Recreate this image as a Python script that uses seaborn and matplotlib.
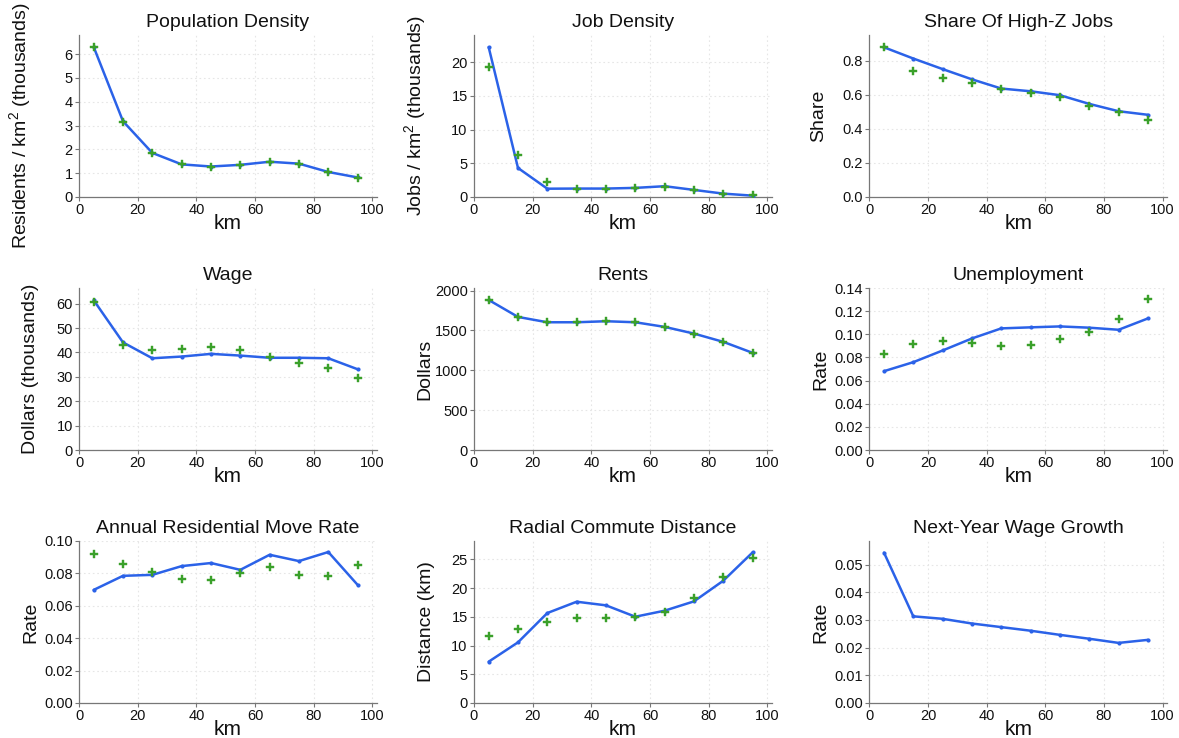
import numpy as np
import pandas as pd
import matplotlib
matplotlib.use("Agg")
import matplotlib.pyplot as plt
import seaborn as sns

km = [5, 15, 25, 35, 45, 55, 65, 75, 85, 95]

titles = ["Population Density", "Job Density", "Share Of High-Z Jobs",
          "Wage", "Rents", "Unemployment",
          "Annual Residential Move Rate", "Radial Commute Distance", "Next-Year Wage Growth"]
ylabels = ["Residents / km$^2$ (thousands)", "Jobs / km$^2$ (thousands)", "Share",
           "Dollars (thousands)", "Dollars", "Rate",
           "Rate", "Distance (km)", "Rate"]

# model (blue line)
pop_model = [6.30, 3.18, 1.85, 1.37, 1.28, 1.35, 1.48, 1.40, 1.05, 0.82]
job_model = [22.2, 4.3, 1.23, 1.25, 1.25, 1.35, 1.6, 1.05, 0.5, 0.2]
share_model = [0.878, 0.812, 0.750, 0.690, 0.636, 0.620, 0.597, 0.546, 0.503, 0.482]
wage_model = [61.4, 44.1, 37.6, 38.3, 39.4, 38.7, 37.8, 37.8, 37.6, 33.1]
rent_model = [1883, 1670, 1603, 1603, 1616, 1603, 1545, 1461, 1357, 1219]
unemp_model = [0.0681, 0.0759, 0.0860, 0.0964, 0.1051, 0.1060, 0.1068, 0.1057, 0.1039, 0.1137]
move_model = [0.0698, 0.0785, 0.0791, 0.0845, 0.0864, 0.0822, 0.0915, 0.0876, 0.0932, 0.0729]
commute_model = [7.19, 10.56, 15.66, 17.63, 17.0, 15.02, 16.07, 17.69, 21.29, 26.22]
growth_model = [0.0543, 0.0313, 0.0304, 0.0287, 0.0274, 0.0261, 0.0246, 0.0232, 0.0217, 0.0228]

# data (green markers)
pop_data = [6.30, 3.15, 1.85, 1.37, 1.28, 1.35, 1.47, 1.40, 1.04, 0.80]
job_data = [19.25, 6.15, 2.15, 1.25, 1.15, 1.30, 1.45, 1.00, 0.45, 0.25]
share_data = [0.878, 0.741, 0.697, 0.669, 0.632, 0.611, 0.585, 0.531, 0.496, 0.453]
wage_data = [60.7, 43.0, 41.1, 41.5, 42.2, 40.8, 38.1, 35.7, 33.6, 29.5]
rent_data = [1883, 1670, 1603, 1603, 1616, 1603, 1545, 1461, 1357, 1219]
unemp_data = [0.0826, 0.0918, 0.0944, 0.0927, 0.0901, 0.0906, 0.0955, 0.1019, 0.1129, 0.1305]
move_data = [0.0921, 0.0857, 0.0810, 0.0764, 0.0758, 0.0804, 0.0839, 0.0793, 0.0783, 0.0851]
commute_data = [11.72, 12.93, 14.15, 14.79, 14.85, 15.02, 15.84, 18.21, 21.98, 25.17]
growth_data = None

models = [pop_model, job_model, share_model, wage_model, rent_model, unemp_model,
          move_model, commute_model, growth_model]
datas = [pop_data, job_data, share_data, wage_data, rent_data, unemp_data,
         move_data, commute_data, growth_data]
ytops = [6.8, 24.0, 0.95, 66.4, 2033, 0.14, 0.1, 28.2, 0.0585]
yticks = [[0, 1, 2, 3, 4, 5, 6], [0, 5, 10, 15, 20], [0, 0.2, 0.4, 0.6, 0.8],
          [0, 10, 20, 30, 40, 50, 60], [0, 500, 1000, 1500, 2000],
          [0, 0.02, 0.04, 0.06, 0.08, 0.10, 0.12, 0.14],
          [0, 0.02, 0.04, 0.06, 0.08, 0.10], [0, 5, 10, 15, 20, 25],
          [0, 0.01, 0.02, 0.03, 0.04, 0.05]]
yfmt = ["{:.0f}", "{:.0f}", "{:.1f}", "{:.0f}", "{:.0f}", "{:.2f}", "{:.2f}", "{:.0f}", "{:.2f}"]

sns.set_theme(style="white")
plt.rcParams['font.family'] = ['Liberation Sans', 'DejaVu Sans']
plt.rcParams['mathtext.fontset'] = 'custom'
plt.rcParams['mathtext.rm'] = 'Liberation Sans'

BLUE = "#2b62e8"
GREEN = "#3aa02a"

fig = plt.figure(figsize=(11.79, 7.38), dpi=100)
W, H = 1179.0, 738.0
col_left = [79, 474, 869.3]
row_bottom = [197, 450, 703]
aw, ah = 297.7, 162
# y-label horizontal centre (pixels) and vertical centre offset for each panel
ylab_x = [20, 415, 813, 25, 419, 815, 25, 421, 815]
ylab_yfrac = [0.44, 0.5, 0.5, 0.5, 0.5, 0.5, 0.5, 0.5, 0.5]

for i in range(9):
    r, c = divmod(i, 3)
    ax = fig.add_axes([col_left[c] / W, 1 - row_bottom[r] / H, aw / W, ah / H])
    dfm = pd.DataFrame({"km": km, "v": models[i]})
    sns.lineplot(data=dfm, x="km", y="v", ax=ax, color=BLUE, lw=1.8,
                 marker="o", markersize=3, markeredgewidth=0, zorder=3)
    if datas[i] is not None:
        dfd = pd.DataFrame({"km": km, "v": datas[i]})
        sns.scatterplot(data=dfd, x="km", y="v", ax=ax, color=GREEN, marker="P",
                        s=26, edgecolor=GREEN, linewidth=0.3, zorder=4)
    ax.set_xlim(0, 101.5)
    ax.set_ylim(0, ytops[i])
    ax.set_xticks([0, 20, 40, 60, 80, 100])
    ax.set_yticks(yticks[i])
    ax.set_yticklabels([yfmt[i].format(t) for t in yticks[i]])
    ax.grid(True, color="#e6e6e6", linestyle=(0, (1.5, 2.5)), linewidth=0.8)
    for s in ["top", "right"]:
        ax.spines[s].set_visible(False)
    for s in ["left", "bottom"]:
        ax.spines[s].set_color("#777777")
        ax.spines[s].set_linewidth(0.9)
    ax.tick_params(axis="both", which="major", direction="out", length=3, width=0.8,
                   color="#777777", labelsize=10.5, labelcolor="#111111", pad=1.5,
                   left=True, bottom=True)
    ax.set_title(titles[i], fontsize=14, pad=6, color="#111111")
    ax.set_xlabel("km", fontsize=15, labelpad=-2, color="#111111")
    ax.set_ylabel(ylabels[i], fontsize=14, color="#111111")
    ax.yaxis.set_label_coords((ylab_x[i] + 14 - col_left[c]) / aw, ylab_yfrac[i])

fig.savefig("out.png", dpi=100)
